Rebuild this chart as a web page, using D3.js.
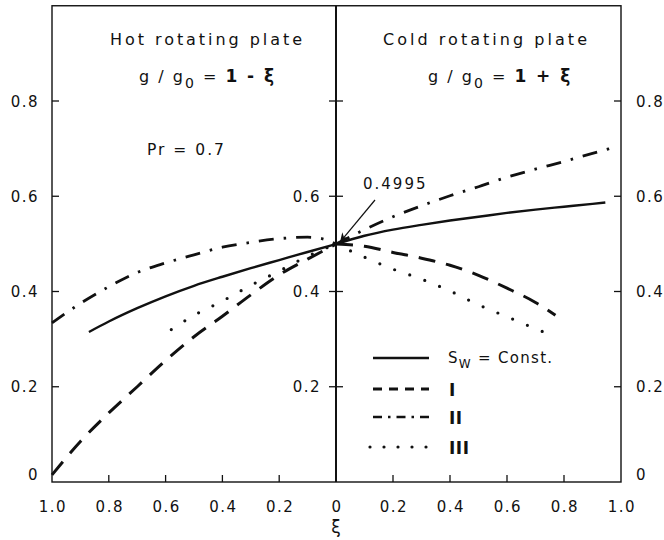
<!DOCTYPE html>
<html><head><meta charset="utf-8">
<script src="https://cdn.jsdelivr.net/npm/d3@7"></script>
<style>
html,body{margin:0;padding:0;background:#fff;}
text{font-family:"DejaVu Sans",sans-serif;fill:#111;}
</style></head>
<body><svg id="c" width="664" height="540"></svg>
<script>
// ---- data ----
const yTicks = [0, 0.2, 0.4, 0.6, 0.8];
const xTicks = [0, 0.2, 0.4, 0.6, 0.8, 1.0];
const xTickLabels = ["0", "0.2", "0.4", "0.6", "0.8", "1.0"];

// Hot rotating plate (left, xi decreasing to the right)
const hotSolidXi   = [0.87,0.8,0.7,0.6,0.5,0.4,0.3,0.2,0.1,0];
const hotSolid     = [0.315,0.337,0.365,0.39,0.412,0.431,0.449,0.466,0.483,0.4995];
const hotDashXi    = [1.0,0.9,0.8,0.7,0.6,0.5,0.4,0.3,0.2,0.1,0];
const hotDash      = [0.015,0.085,0.145,0.2,0.255,0.305,0.348,0.393,0.435,0.468,0.4995];
const hotDashDotXi = [1.0,0.9,0.8,0.7,0.6,0.5,0.4,0.3,0.2,0.1,0.05,0];
const hotDashDot   = [0.334,0.375,0.41,0.44,0.46,0.477,0.493,0.503,0.511,0.514,0.511,0.4995];
const hotDotXi     = [0.58,0.5,0.4,0.3,0.2,0.1,0];
const hotDot       = [0.32,0.35,0.38,0.413,0.443,0.474,0.4995];

// Cold rotating plate (right)
const coldSolidXi   = [0,0.1,0.2,0.3,0.4,0.5,0.6,0.7,0.8,0.9,0.945];
const coldSolid     = [0.4995,0.517,0.53,0.54,0.549,0.557,0.565,0.572,0.578,0.584,0.587];
const coldDashXi    = [0,0.1,0.2,0.3,0.4,0.5,0.6,0.7,0.77];
const coldDash      = [0.4995,0.495,0.482,0.47,0.455,0.434,0.407,0.377,0.35];
const coldDashDotXi = [0,0.1,0.2,0.3,0.4,0.5,0.6,0.7,0.8,0.9,0.96];
const coldDashDot   = [0.4995,0.53,0.557,0.58,0.601,0.62,0.64,0.657,0.673,0.69,0.70];
const coldDotXi     = [0,0.1,0.2,0.3,0.4,0.5,0.6,0.7,0.77];
const coldDot       = [0.4995,0.472,0.447,0.426,0.401,0.372,0.347,0.322,0.305];

const legendLabels = ["Const.", "I", "II", "III"];

// ---- layout ----
const svg = d3.select("#c");
const X0 = 52, XC = 336, X1 = 621, YB = 482, YT = 5.75;
const xL = d3.scaleLinear().domain([1, 0]).range([X0, XC]);
const xR = d3.scaleLinear().domain([0, 1]).range([XC, X1]);
const y = d3.scaleLinear().domain([0, 1]).range([YB, YT]);

const styles = {
  solid:   {dash: null, cap: "butt", w: 2.4},
  dash:    {dash: "17,11", cap: "butt", w: 3},
  dashdot: {dash: "15,10,2.5,10", cap: "butt", w: 2.8},
  dot:     {dash: "0,16", cap: "round", w: 3.2}
};

// frame
svg.append("rect").attr("x", X0).attr("y", YT).attr("width", X1 - X0).attr("height", YB - YT)
  .attr("fill", "none").attr("stroke", "#111").attr("stroke-width", 1.4);
svg.append("line").attr("x1", XC).attr("x2", XC).attr("y1", YT).attr("y2", YB)
  .attr("stroke", "#111").attr("stroke-width", 2);

// y ticks
const g = svg.append("g").attr("stroke", "#111").attr("stroke-width", 1.3);
yTicks.forEach(t => {
  if (t === 0) return;
  g.append("line").attr("x1", X0).attr("x2", X0 + 7).attr("y1", y(t)).attr("y2", y(t));
  g.append("line").attr("x1", X1 - 7).attr("x2", X1).attr("y1", y(t)).attr("y2", y(t));
  g.append("line").attr("x1", XC - 7).attr("x2", XC + 7).attr("y1", y(t)).attr("y2", y(t));
});
// x ticks
xTicks.forEach(t => {
  if (t === 0 || t === 1) return;
  g.append("line").attr("x1", xL(t)).attr("x2", xL(t)).attr("y1", YB).attr("y2", YB - 7);
  g.append("line").attr("x1", xR(t)).attr("x2", xR(t)).attr("y1", YB).attr("y2", YB - 7);
});

const fs = 15;
function lab(txt, x, yy, anchor) {
  return svg.append("text").attr("x", x).attr("y", yy).attr("text-anchor", anchor || "start")
    .attr("font-size", fs).attr("letter-spacing", 1.5).text(txt);
}
// y labels
yTicks.forEach(t => {
  const lbl = t === 0 ? "0" : d3.format(".1f")(t);
  const yy = (t === 0 ? y(t) - 8 : y(t)) + 5.5;
  lab(lbl, 39, yy, "end");
  lab(lbl, 636, yy, "start");
  if (t > 0 && t < 0.8) lab(lbl, 321, yy, "end");
});
// x labels
xTicks.forEach((t, i) => {
  lab(xTickLabels[i], xL(t) + 1, 512, "middle");
  if (t > 0) lab(xTickLabels[i], xR(t) + 1, 512, "middle");
});
svg.append("text").attr("x", XC).attr("y", 533).attr("text-anchor", "middle")
  .attr("font-size", 17).text("ξ");

// curves
function drawCurve(xs, vs, scale, st) {
  const pts = xs.map((d, i) => [scale(d), y(vs[i])]);
  pts.sort((a, b) => a[0] - b[0]);
  svg.append("path").attr("d", d3.line().curve(d3.curveMonotoneX)(pts))
    .attr("fill", "none").attr("stroke", "#111").attr("stroke-width", st.w)
    .attr("stroke-linecap", st.cap).attr("stroke-dasharray", st.dash);
}
drawCurve(hotSolidXi, hotSolid, xL, styles.solid);
drawCurve(hotDashXi, hotDash, xL, styles.dash);
drawCurve(hotDashDotXi, hotDashDot, xL, styles.dashdot);
drawCurve(hotDotXi, hotDot, xL, styles.dot);
drawCurve(coldSolidXi, coldSolid, xR, styles.solid);
drawCurve(coldDashXi, coldDash, xR, styles.dash);
drawCurve(coldDashDotXi, coldDashDot, xR, styles.dashdot);
drawCurve(coldDotXi, coldDot, xR, styles.dot);

// titles
function ttl(x, yy, len) {
  return svg.append("text").attr("x", x).attr("y", yy).attr("font-size", 16)
    .attr("textLength", len).attr("lengthAdjust", "spacing");
}
ttl(110, 45, 192).text("Hot rotating plate");
ttl(383, 45, 204).text("Cold rotating plate");

function eq(x, yy, sign) {
  const t = svg.append("text").attr("x", x).attr("y", yy).attr("font-size", 16);
  t.append("tspan").text("g / g");
  t.append("tspan").attr("dy", 6).attr("font-size", 14).text("0");
  t.append("tspan").attr("dy", -6).text(" = ");
  t.append("tspan").attr("font-weight", "bold").attr("font-size", 17).text("1 " + sign + " ξ");
  return t;
}
eq(139, 82, "-").attr("letter-spacing", 2);
eq(428, 82, "+").attr("letter-spacing", 2);

lab("Pr = 0.7", 147, 155).attr("letter-spacing", 2).attr("font-size", 15.5);

// annotation
lab("0.4995", 363, 189).attr("letter-spacing", 2);
const defs = svg.append("defs");
defs.append("marker").attr("id", "ah").attr("viewBox", "0 0 10 10").attr("refX", 10).attr("refY", 5)
  .attr("markerWidth", 10).attr("markerHeight", 9).attr("markerUnits", "userSpaceOnUse").attr("orient", "auto")
  .append("path").attr("d", "M0,0 L10,5 L0,10 L3,5 Z").attr("fill", "#111");
svg.append("line").attr("x1", 375).attr("y1", 200).attr("x2", xR(0) + 4).attr("y2", y(0.4995) - 2)
  .attr("stroke", "#111").attr("stroke-width", 1.2).attr("marker-end", "url(#ah)");

// legend
const legStyles = [
  {dash: null, cap: "butt", w: 2.4},
  {dash: "9,7", cap: "butt", w: 2.8},
  {dash: "9,6,2.5,6", cap: "butt", w: 2.6},
  {dash: "0,14", cap: "round", w: 3.2}
];
const legY = [358, 389, 417, 447];
legStyles.forEach((st, i) => {
  svg.append("line").attr("x1", i === 3 ? 370 : 373).attr("x2", 429).attr("y1", legY[i]).attr("y2", legY[i])
    .attr("stroke", "#111").attr("stroke-width", st.w).attr("stroke-dasharray", st.dash)
    .attr("stroke-linecap", st.cap);
  if (i === 0) {
    const t = svg.append("text").attr("x", 448).attr("y", legY[i] + 5).attr("font-size", 15).attr("letter-spacing", 1.3);
    t.append("tspan").text("S");
    t.append("tspan").attr("dy", 5).attr("font-size", 12).text("W");
    t.append("tspan").attr("dy", -5).text(" = " + legendLabels[0]);
  } else {
    svg.append("text").attr("x", 449).attr("y", legY[i] + 7).attr("font-size", 17)
      .attr("font-family", "Liberation Serif, serif").attr("font-weight", "bold").attr("letter-spacing", 0.5)
      .text(legendLabels[i]);
  }
});
</script></body></html>
